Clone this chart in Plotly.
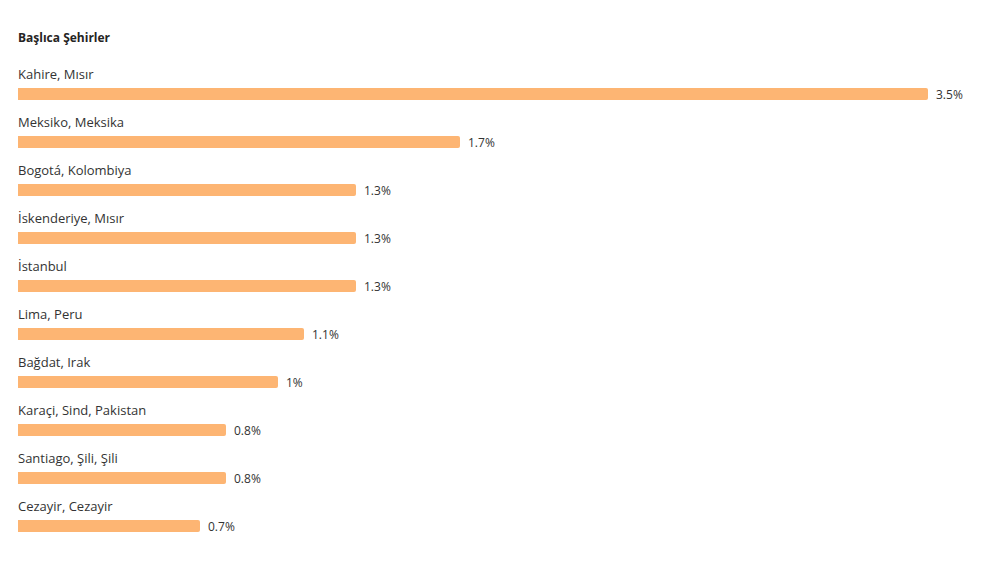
import plotly.graph_objects as go

cities = [
    "Kahire, Mısır",
    "Meksiko, Meksika",
    "Bogotá, Kolombiya",
    "İskenderiye, Mısır",
    "İstanbul",
    "Lima, Peru",
    "Bağdat, Irak",
    "Karaçi, Sind, Pakistan",
    "Santiago, Şili, Şili",
    "Cezayir, Cezayir",
]
shares = [3.5, 1.7, 1.3, 1.3, 1.3, 1.1, 1, 0.8, 0.8, 0.7]
share_labels = ["3.5%", "1.7%", "1.3%", "1.3%", "1.3%", "1.1%", "1%", "0.8%", "0.8%", "0.7%"]

# page body adds an 8px offset, so the figure is drawn 8px smaller
W, H = 975, 559
TEXT = "#333333"
FONT = "Open Sans, Noto Sans, sans-serif"

fig = go.Figure(
    go.Bar(
        x=shares,
        y=cities,
        orientation="h",
        width=0.25,
        marker={"color": "#FDB573", "line": {"width": 0}},
        hoverinfo="skip",
    )
)

annotations = []
for city, share, label in zip(cities, shares, share_labels):
    # city name above the bar
    annotations.append(
        {
            "x": 0,
            "y": city,
            "xref": "paper",
            "yref": "y",
            "xanchor": "left",
            "yanchor": "middle",
            "xshift": -2,
            "yshift": 20,
            "showarrow": False,
            "text": city,
            "font": {"size": 13, "color": TEXT, "family": FONT},
        }
    )
    # value to the right of the bar
    annotations.append(
        {
            "x": share,
            "y": city,
            "xref": "x",
            "yref": "y",
            "xanchor": "left",
            "yanchor": "middle",
            "xshift": 6,
            "showarrow": False,
            "text": label,
            "font": {"size": 12, "color": TEXT, "family": FONT},
        }
    )

fig.update_layout(
    width=W,
    height=H,
    paper_bgcolor="white",
    plot_bgcolor="white",
    margin={"l": 10, "r": 55, "t": 62, "b": 17},
    barcornerradius=2,
    showlegend=False,
    title={
        "text": "<b>Başlıca Şehirler</b>",
        "x": 10 / W,
        "xanchor": "left",
        "xref": "container",
        "y": 1 - 30 / H,
        "yanchor": "middle",
        "yref": "container",
        "font": {"size": 12, "color": "#252423", "family": FONT},
    },
    annotations=annotations,
)
fig.update_xaxes(range=[0, 3.5], visible=False)
fig.update_yaxes(range=[len(cities) - 0.5, -0.5], visible=False)

fig.write_html("out.html")
